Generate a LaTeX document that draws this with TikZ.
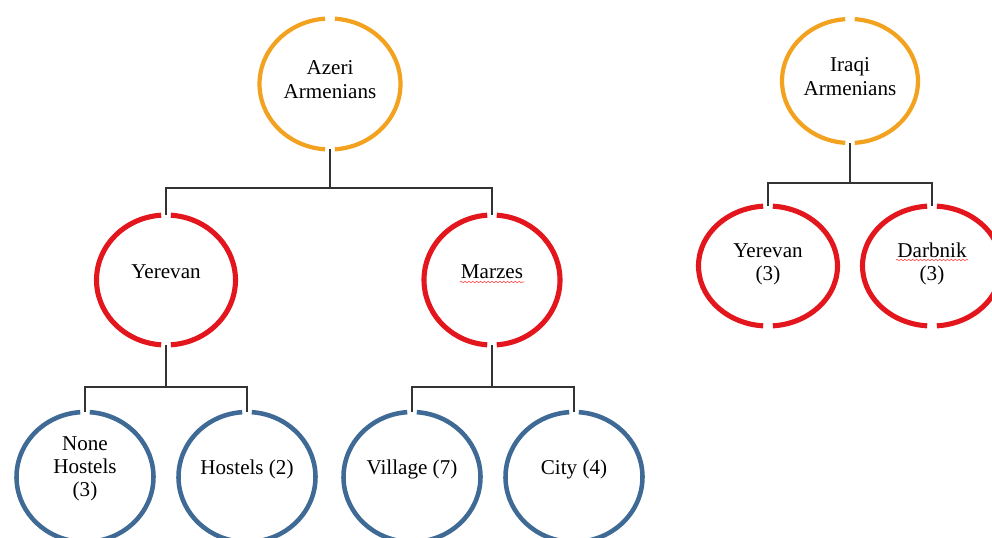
\documentclass[tikz,border=0pt]{standalone}
\usepackage{fontspec}
\setmainfont{Liberation Serif}
\usepackage{xcolor}
\usetikzlibrary{shapes.geometric,calc,decorations.pathmorphing}

\definecolor{ringorange}{RGB}{243,162,32}
\definecolor{ringred}{RGB}{226,22,28}
\definecolor{ringblue}{RGB}{64,106,150}

\begin{document}
\begin{tikzpicture}[
  x=0.02cm, y=-0.02cm,
  ring/.style={ellipse, inner sep=0pt, outer sep=0pt, minimum width=2.78cm, minimum height=2.6cm},
  txt/.style={align=center, inner sep=0pt, yshift=4.5pt, font=\fontsize{12}{13.2}\selectfont},
  toparc/.style={draw=ringorange, line width=2.4pt},
  midarc/.style={draw=ringred, line width=2.9pt},
  leafarc/.style={draw=ringblue, line width=2.6pt},
  link/.style={draw=black!80, line width=0.6pt},
  wavy/.style={draw=red!70, line width=0.35pt, decorate, decoration={snake, amplitude=0.45pt, segment length=2.2pt}}
]
\useasboundingbox (0,0) rectangle (992,538);

% first tree
\node[ring, minimum width=2.82cm, minimum height=2.62cm, label={[txt, yshift=-2pt]center:Azeri\\Armenians}] (azeri) at (330,84) {};
\node[ring, label={[txt]center:Yerevan}] (yer) at (166,280) {};
\node[ring, minimum width=2.72cm, label={[txt]center:Marzes}] (marz) at (492,280) {};
\node[ring, minimum width=2.74cm, label={[txt]center:None\\Hostels\\(3)}] (none) at (85,477) {};
\node[ring, minimum width=2.74cm, label={[txt]center:Hostels (2)}] (host) at (247,477) {};
\node[ring, minimum width=2.74cm, label={[txt]center:Village (7)}] (vill) at (412,477) {};
\node[ring, minimum width=2.74cm, label={[txt]center:City (4)}] (city) at (574,477) {};

% second tree
\node[ring, minimum width=2.72cm, minimum height=2.48cm, label={[txt, yshift=-2pt]center:Iraqi\\Armenians}] (iraqi) at (850,81) {};
\node[ring, minimum height=2.4cm, label={[txt, yshift=-3.5pt]center:Yerevan\\(3)}] (yer3) at (768,266) {};
\node[ring, minimum height=2.4cm, label={[txt, yshift=-3.5pt]center:Darbnik\\(3)}] (darb) at (932,266) {};

% rings with small gaps top and bottom
\foreach \nd/\s in {azeri/toparc, iraqi/toparc, yer/midarc, marz/midarc, yer3/midarc, darb/midarc,
                    none/leafarc, host/leafarc, vill/leafarc, city/leafarc}{
  \path let \p1=($(\nd.east)-(\nd.center)$), \p2=($(\nd.north)-(\nd.center)$) in
    [\s] (\nd.center) ++(94:\x1 and \y2) arc[start angle=94, end angle=266, x radius=\x1, y radius=\y2]
    [\s] (\nd.center) ++(-86:\x1 and \y2) arc[start angle=-86, end angle=86, x radius=\x1, y radius=\y2];
}

% connectors
\coordinate (azjoin) at (330,188);
\coordinate (yerjoin) at (166,387);
\coordinate (marzjoin) at (492,387);
\coordinate (iqjoin) at (850,183);

\draw[link] (azeri.south) -- (azjoin);
\draw[link] (yer.north) |- (azjoin) -| (marz.north);
\draw[link] (yer.south) -- (yerjoin);
\draw[link] (none.north) |- (yerjoin) -| (host.north);
\draw[link] (marz.south) -- (marzjoin);
\draw[link] (vill.north) |- (marzjoin) -| (city.north);
\draw[link] (iraqi.south) -- (iqjoin);
\draw[link] (yer3.north) |- (iqjoin) -| (darb.north);

% spell-check marks
\draw[wavy] ([shift={(-32,2)}]marz.center) -- ([shift={(32,2)}]marz.center);
\draw[wavy] ([shift={(-36,-6)}]darb.center) -- ([shift={(36,-6)}]darb.center);
\end{tikzpicture}
\end{document}
